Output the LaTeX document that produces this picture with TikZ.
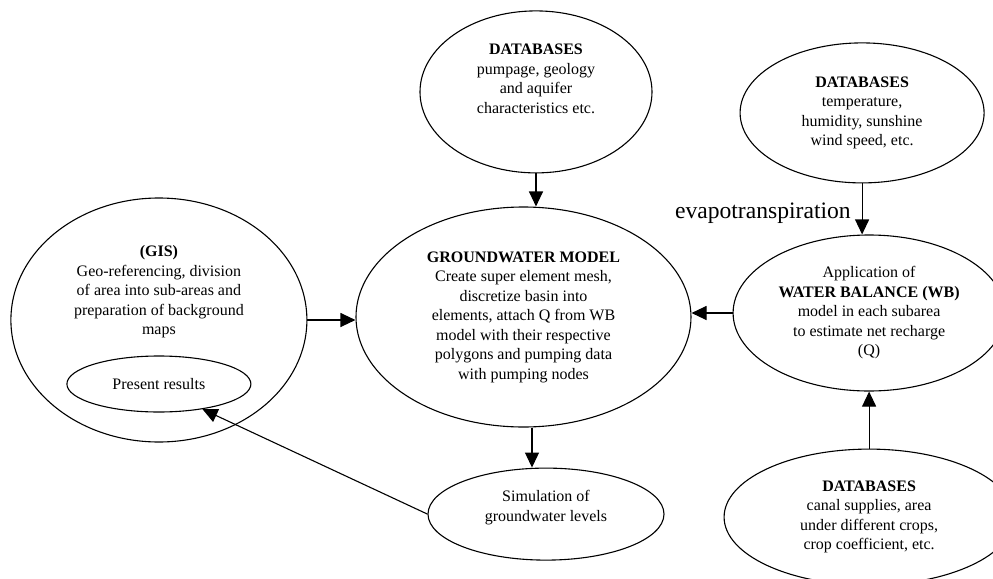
\documentclass[tikz,border=0pt]{standalone}
\usepackage{fontspec}
\setmainfont{Liberation Serif}
\usetikzlibrary{positioning, arrows.meta, shapes.geometric}

\begin{document}
\begin{tikzpicture}[
    x=0.5pt, y=-0.5pt,
    blob/.style={
        ellipse,
        draw=black,
        line width=0.55pt,
        inner sep=0pt,
        align=center,
        font=\fontsize{8}{9.75}\selectfont
    },
    flow/.style={-{Triangle[length=7.5pt, width=7pt]}, line width=0.55pt}
]
    \useasboundingbox (0,0) rectangle (993,579);

    % Centre: groundwater model
    \node[blob, minimum width=167.5pt, minimum height=110pt] (gw) at (523.5,317)
        {\textbf{GROUNDWATER MODEL}\\Create super element mesh,\\discretize basin into\\elements, attach Q from WB\\model with their respective\\polygons and pumping data\\with pumping nodes};

    % Above and below the model
    \node[blob, minimum width=116pt, minimum height=81pt, text depth=13pt, above=16.5pt of gw, xshift=6.25pt] (dbpump)
        {\textbf{DATABASES}\\pumpage, geology\\and aquifer\\characteristics etc.};
    \node[blob, minimum width=118pt, minimum height=46pt, text depth=8pt, below=20pt of gw, xshift=11.25pt] (sim)
        {Simulation of\\groundwater levels};

    % Left: GIS with results inside
    \node[blob, minimum width=148pt, minimum height=122pt, text depth=30pt, left=24pt of gw, yshift=-1.5pt] (gis)
        {\textbf{(GIS)}\\Geo-referencing, division\\of area into sub-areas and\\preparation of background\\maps};
    \node[blob, minimum width=92pt, minimum height=28pt] (present) at ([yshift=-32pt]gis.center) {Present results};

    % Right: water balance and its databases
    \node[blob, minimum width=136pt, minimum height=78pt, right=20.5pt of gw, yshift=2pt] (wb)
        {Application of\\\textbf{WATER BALANCE (WB)}\\model in each subarea\\to estimate net recharge\\(Q)};
    \node[blob, minimum width=122pt, minimum height=70pt, above=25.5pt of wb, xshift=-3.5pt] (dbclimate)
        {\textbf{DATABASES}\\temperature,\\humidity, sunshine\\wind speed, etc.};
    \node[blob, minimum width=145pt, minimum height=68pt, below=28.5pt of wb] (dbcanal)
        {\textbf{DATABASES}\\canal supplies, area\\under different crops,\\crop coefficient, etc.};
    \node[font=\fontsize{11.8}{13}\selectfont, anchor=base east, inner sep=0pt] (evap)
        at ([shift={(-5.5pt,-17.5pt)}]dbclimate.south) {evapotranspiration};

    % Arrows
    \draw[flow] (dbpump.south) -- (dbpump.south |- gw.north);
    \draw[flow] (gis.east) -- (gis.east -| gw.west);
    \draw[flow] (wb.west) -- (wb.west -| gw.east);
    \draw[flow] (dbclimate.south) -- (dbclimate.south |- wb.north);
    \draw[flow] (dbcanal.north) -- (wb.south);
    \draw[flow] ([xshift=4.25pt]gw.south) -- ([xshift=4.25pt]gw.south |- sim.north);
    \draw[flow] (sim.west) -- (present.330);
\end{tikzpicture}
\end{document}
